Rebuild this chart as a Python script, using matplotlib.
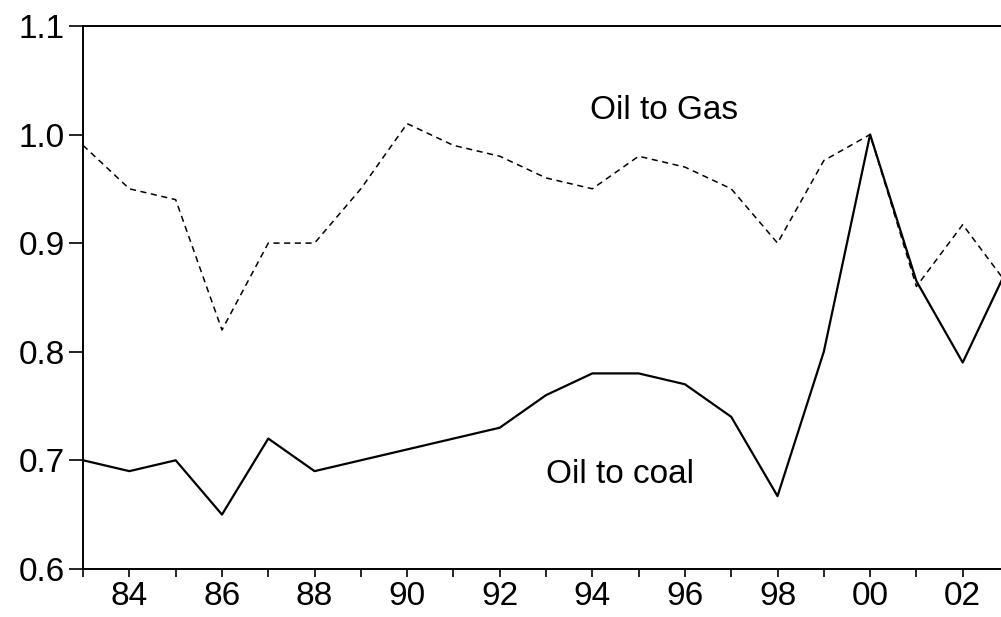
import matplotlib
matplotlib.use("Agg")
import matplotlib.pyplot as plt
from matplotlib.ticker import MultipleLocator, FuncFormatter

plt.rcParams["font.family"] = ["Liberation Sans", "DejaVu Sans"]

years = list(range(1983, 2004))
oil_to_gas = [0.99, 0.95, 0.94, 0.82, 0.90, 0.90, 0.95, 1.01, 0.99, 0.98, 0.96,
              0.95, 0.98, 0.97, 0.95, 0.90, 0.976, 1.00, 0.86, 0.917, 0.86]
oil_to_coal = [0.70, 0.69, 0.70, 0.65, 0.72, 0.69, 0.70, 0.71, 0.72, 0.73, 0.76,
               0.78, 0.78, 0.77, 0.74, 0.667, 0.80, 1.00, 0.865, 0.79, 0.88]
y_ticks = [0.6, 0.7, 0.8, 0.9, 1.0, 1.1]


def year_label(x, pos):
    x = int(round(x))
    if x % 2 == 1:
        return ""
    return f"{x % 100:02d}"


fig = plt.figure(figsize=(10.01, 6.17), dpi=100)
ax = fig.add_axes([0.083, 0.078, 0.925, 0.880])

ax.plot(years, oil_to_gas, color="black", lw=1.1, ls=(0, (4, 3)))
ax.plot(years, oil_to_coal, color="black", lw=1.6)

ax.set_xlim(1983, 2003)
ax.set_ylim(0.6, 1.1)
ax.set_yticks(y_ticks)
ax.yaxis.set_major_formatter(FuncFormatter(lambda v, p: f"{v:.1f}"))
ax.xaxis.set_major_locator(MultipleLocator(1))
ax.xaxis.set_major_formatter(FuncFormatter(year_label))

ax.tick_params(axis="y", length=10, width=1.2, pad=3, labelsize=24)
ax.tick_params(axis="x", length=6, width=1.2, pad=3, labelsize=24)
for s in ax.spines.values():
    s.set_linewidth(1.4)

ax.text(1995.55, 1.022, "Oil to Gas", fontsize=24, ha="center", va="center")
ax.text(1994.6, 0.687, "Oil to coal", fontsize=24, ha="center", va="center")

fig.savefig("out.png", dpi=100)
